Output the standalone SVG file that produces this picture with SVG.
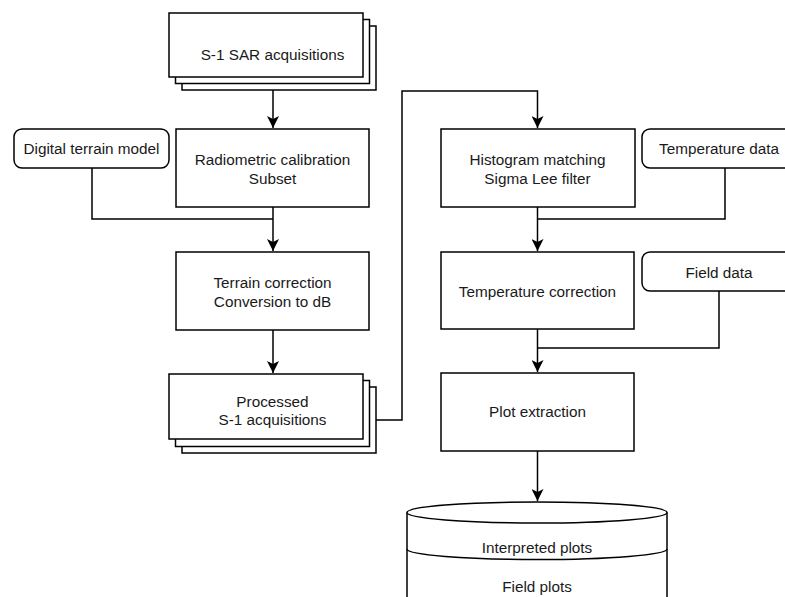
<svg xmlns="http://www.w3.org/2000/svg" width="785" height="597" viewBox="0 0 785 597">
<defs>
<style>
.b{fill:#fff;stroke:#000;stroke-width:1.5}
.t{font-family:"Liberation Sans",Arial,sans-serif;font-size:15.3px;fill:#1a1a1a;text-anchor:middle}
.c{fill:none;stroke:#000;stroke-width:1.5}
</style>
<marker id="ah" markerWidth="12" markerHeight="12" refX="10" refY="5" orient="auto" markerUnits="userSpaceOnUse" viewBox="0 0 10 10">
<path d="M0,0 L10,5 L0,10 L2.5,5 Z" fill="#000"/>
</marker>
</defs>
<rect width="785" height="597" fill="#fff"/>
<g id="connectors">
<path class="c" d="M273,90 V128" marker-end="url(#ah)"/>
<path class="c" d="M273,207 V251" marker-end="url(#ah)"/>
<path class="c" d="M92,168 V219 H273"/>
<path class="c" d="M273,330 V373" marker-end="url(#ah)"/>
<path class="c" d="M376,420 H402 V91 H537.5 V128" marker-end="url(#ah)"/>
<path class="c" d="M537.5,207 V251" marker-end="url(#ah)"/>
<path class="c" d="M725,168 V219 H537.5"/>
<path class="c" d="M537.5,329 V372" marker-end="url(#ah)"/>
<path class="c" d="M719,291 V348 H537.5"/>
<path class="c" d="M537.5,451 V501" marker-end="url(#ah)"/>
</g>
<g id="s1sar">
<rect class="b" x="182" y="26" width="194" height="64"/>
<rect class="b" x="175.5" y="19.5" width="194" height="64"/>
<rect class="b" x="169" y="13" width="194" height="64"/>
<text class="t" x="272.5" y="59.5">S-1 SAR acquisitions</text>
</g>
<g id="dtm">
<rect class="b" x="14" y="129" width="155" height="39" rx="8"/>
<text class="t" x="91.5" y="154">Digital terrain model</text>
</g>
<g id="radiometric">
<rect class="b" x="176" y="129" width="193" height="78"/>
<text class="t" x="272.5" y="165">Radiometric calibration</text>
<text class="t" x="272.5" y="184">Subset</text>
</g>
<g id="terrain">
<rect class="b" x="176" y="252" width="193" height="78"/>
<text class="t" x="272.5" y="287.5">Terrain correction</text>
<text class="t" x="272.5" y="306.5">Conversion to dB</text>
</g>
<g id="processed">
<rect class="b" x="182" y="387" width="194" height="66"/>
<rect class="b" x="175.5" y="380.5" width="194" height="66"/>
<rect class="b" x="169" y="374" width="194" height="65"/>
<text class="t" x="272.5" y="407">Processed</text>
<text class="t" x="272.5" y="425">S-1 acquisitions</text>
</g>
<g id="histogram">
<rect class="b" x="441" y="129" width="194" height="78"/>
<text class="t" x="537.5" y="165">Histogram matching</text>
<text class="t" x="537.5" y="184">Sigma Lee filter</text>
</g>
<g id="temperature-data">
<rect class="b" x="642" y="129" width="155" height="39" rx="8"/>
<text class="t" x="719" y="154">Temperature data</text>
</g>
<g id="temperature-correction">
<rect class="b" x="441" y="252" width="193" height="77"/>
<text class="t" x="537.5" y="297">Temperature correction</text>
</g>
<g id="field-data">
<rect class="b" x="642" y="252" width="155" height="39" rx="8"/>
<text class="t" x="719" y="277.5">Field data</text>
</g>
<g id="plot-extraction">
<rect class="b" x="441" y="373" width="193" height="78"/>
<text class="t" x="537.5" y="417">Plot extraction</text>
</g>
<g id="datastore">
<path class="b" d="M407,512.5 V605 H667 V512.5"/>
<ellipse class="b" cx="537" cy="512.5" rx="130" ry="10.5"/>
<path class="c" d="M407,549 A130,10.5 0 0 0 667,549"/>
<text class="t" x="537" y="553">Interpreted plots</text>
<text class="t" x="537" y="592">Field plots</text>
</g>
</svg>
